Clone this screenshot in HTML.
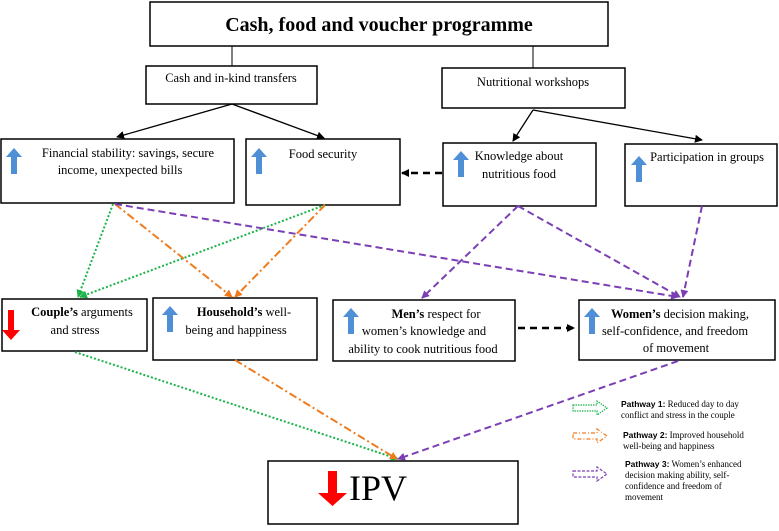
<!DOCTYPE html>
<html><head><meta charset="utf-8"><style>
body{margin:0;background:#fff;width:779px;height:526px;overflow:hidden}
svg text{font-family:"Liberation Serif",serif;fill:#000}
.b{fill:#fff;stroke:#000;stroke-width:1.5}
.t{font-size:12.5px}
.lg{font-size:9px}
.lgb{font-family:"Liberation Sans",sans-serif;font-weight:bold;font-size:8.5px}
</style></head><body>
<svg width="779" height="526" viewBox="0 0 779 526" xmlns="http://www.w3.org/2000/svg">
<defs>
<marker id="ak" markerWidth="8" markerHeight="8" refX="7" refY="4" orient="auto" markerUnits="userSpaceOnUse"><path d="M0,0 L8,4 L0,8z" fill="#000"/></marker>
<marker id="ag" markerWidth="8" markerHeight="8" refX="7" refY="4" orient="auto" markerUnits="userSpaceOnUse"><path d="M0,0 L8,4 L0,8z" fill="#1bb34a"/></marker>
<marker id="ao" markerWidth="8" markerHeight="8" refX="7" refY="4" orient="auto" markerUnits="userSpaceOnUse"><path d="M0,0 L8,4 L0,8z" fill="#f07b1d"/></marker>
<marker id="ap" markerWidth="8" markerHeight="8" refX="7" refY="4" orient="auto" markerUnits="userSpaceOnUse"><path d="M0,0 L8,4 L0,8z" fill="#7b3fb5"/></marker>
<path id="up" d="M0,9 L8,0 L16,9 L11,9 L11,26 L5,26 L5,9z" fill="#4f8fd6"/>
</defs>
<!-- boxes -->
<rect class="b" x="150" y="2" width="458" height="44"/>
<text x="379" y="31" text-anchor="middle" font-size="20" font-weight="bold">Cash, food and voucher programme</text>
<line x1="232" y1="46" x2="232" y2="66" stroke="#000"/>
<line x1="533" y1="46" x2="533" y2="68" stroke="#000"/>
<rect class="b" x="146" y="66" width="171" height="38"/>
<text x="231" y="82" text-anchor="middle" class="t">Cash and in-kind transfers</text>
<rect class="b" x="442" y="68" width="183" height="40"/>
<text x="533" y="86" text-anchor="middle" class="t">Nutritional workshops</text>

<rect class="b" x="1" y="139" width="233" height="64"/>
<use href="#up" x="6" y="148"/>
<text x="128" y="157" text-anchor="middle" class="t">Financial stability: savings, secure</text>
<text x="120" y="174" text-anchor="middle" class="t">income, unexpected bills</text>
<rect class="b" x="246" y="139" width="154" height="66"/>
<use href="#up" x="251" y="148"/>
<text x="323" y="158" text-anchor="middle" class="t">Food security</text>
<rect class="b" x="443" y="143" width="153" height="63"/>
<use href="#up" x="453" y="151"/>
<text x="519" y="160" text-anchor="middle" class="t">Knowledge about</text>
<text x="519" y="178" text-anchor="middle" class="t">nutritious food</text>
<rect class="b" x="625" y="144" width="152" height="62"/>
<use href="#up" x="631" y="156"/>
<text x="707" y="161" text-anchor="middle" class="t">Participation in groups</text>

<rect class="b" x="2" y="299" width="145" height="52"/>
<path d="M5,310 L11,310 L11,330 L17,330 L8,340 L-1,330 L5,330z" fill="#f00" transform="translate(3,0)"/>
<text x="82" y="316" text-anchor="middle" class="t"><tspan font-weight="bold">Couple’s</tspan> arguments</text>
<text x="75" y="334" text-anchor="middle" class="t">and stress</text>
<rect class="b" x="153" y="298" width="164" height="62"/>
<use href="#up" x="162" y="306"/>
<text x="244" y="316" text-anchor="middle" class="t"><tspan font-weight="bold">Household’s</tspan> well-</text>
<text x="236" y="334" text-anchor="middle" class="t">being and happiness</text>
<rect class="b" x="333" y="300" width="182" height="61"/>
<use href="#up" x="343" y="308"/>
<text x="436" y="318" text-anchor="middle" class="t"><tspan font-weight="bold">Men’s</tspan> respect for</text>
<text x="424" y="335" text-anchor="middle" class="t">women’s knowledge and</text>
<text x="423" y="353" text-anchor="middle" class="t">ability to cook nutritious food</text>
<rect class="b" x="579" y="300" width="196" height="60"/>
<use href="#up" x="584" y="308"/>
<text x="680" y="318" text-anchor="middle" class="t"><tspan font-weight="bold">Women’s</tspan> decision making,</text>
<text x="675" y="335" text-anchor="middle" class="t">self-confidence, and freedom</text>
<text x="676" y="352" text-anchor="middle" class="t">of movement</text>

<rect class="b" x="268" y="461" width="250" height="63"/>
<path d="M328,471 L337,471 L337,493 L347,493 L332.5,506 L318,493 L328,493z" fill="#f00"/>
<text x="349" y="500" font-size="36">IPV</text>

<!-- black arrows -->
<g stroke="#000" stroke-width="1.3" fill="none">
<line x1="232" y1="104" x2="117" y2="137" marker-end="url(#ak)"/>
<line x1="232" y1="104" x2="324" y2="138" marker-end="url(#ak)"/>
<line x1="533" y1="110" x2="513" y2="141" marker-end="url(#ak)"/>
<line x1="533" y1="110" x2="702" y2="140" marker-end="url(#ak)"/>
<line x1="442" y1="173" x2="402" y2="173" stroke-width="2.5" stroke-dasharray="7,5" marker-end="url(#ak)"/>
<line x1="518" y1="328" x2="574" y2="328" stroke-width="2.5" stroke-dasharray="7,5" marker-end="url(#ak)"/>
</g>
<!-- green -->
<g stroke="#1bb34a" stroke-width="2" stroke-dasharray="2,2" fill="none">
<line x1="113" y1="204" x2="78" y2="297" marker-end="url(#ag)"/>
<line x1="325" y1="205" x2="80" y2="297" marker-end="url(#ag)"/>
<line x1="75" y1="352" x2="398" y2="459" marker-end="url(#ag)"/>
</g>
<!-- orange -->
<g stroke="#f07b1d" stroke-width="2" stroke-dasharray="8,3,2,3" fill="none">
<line x1="115" y1="204" x2="232" y2="297" marker-end="url(#ao)"/>
<line x1="325" y1="205" x2="235" y2="297" marker-end="url(#ao)"/>
<line x1="235" y1="360" x2="397" y2="459" marker-end="url(#ao)"/>
</g>
<!-- purple -->
<g stroke="#7b3fb5" stroke-width="2" stroke-dasharray="7,4" fill="none">
<line x1="115" y1="204" x2="678" y2="297" marker-end="url(#ap)"/>
<line x1="518" y1="206" x2="422" y2="298" marker-end="url(#ap)"/>
<line x1="518" y1="206" x2="680" y2="297" marker-end="url(#ap)"/>
<line x1="702" y1="206" x2="683" y2="297" marker-end="url(#ap)"/>
<line x1="678" y1="361" x2="398" y2="459" marker-end="url(#ap)"/>
</g>
<!-- legend -->
<g fill="none" stroke-width="1.2">
<path d="M573,405 L597,405 L597,401 L607,408 L597,415 L597,411 L573,411z" stroke="#1bb34a" stroke-dasharray="1.5,1"/>
<path d="M573,433 L597,433 L597,429 L607,436 L597,443 L597,439 L573,439z" stroke="#f07b1d" stroke-dasharray="4,2,1,2"/>
<path d="M573,471 L597,471 L597,467 L607,474 L597,481 L597,477 L573,477z" stroke="#7b3fb5" stroke-dasharray="3,1.5"/>
</g>
<text x="621" y="407" class="lg"><tspan class="lgb">Pathway 1:</tspan> Reduced day to day</text>
<text x="621" y="418" class="lg">conflict and stress in the couple</text>
<text x="623" y="438" class="lg"><tspan class="lgb">Pathway 2:</tspan> Improved household</text>
<text x="623" y="449" class="lg">well-being and happiness</text>
<text x="625" y="467" class="lg"><tspan class="lgb">Pathway 3:</tspan> Women’s enhanced</text>
<text x="625" y="478" class="lg">decision making ability, self-</text>
<text x="625" y="489" class="lg">confidence and freedom of</text>
<text x="625" y="500" class="lg">movement</text>
</svg>
</body></html>
